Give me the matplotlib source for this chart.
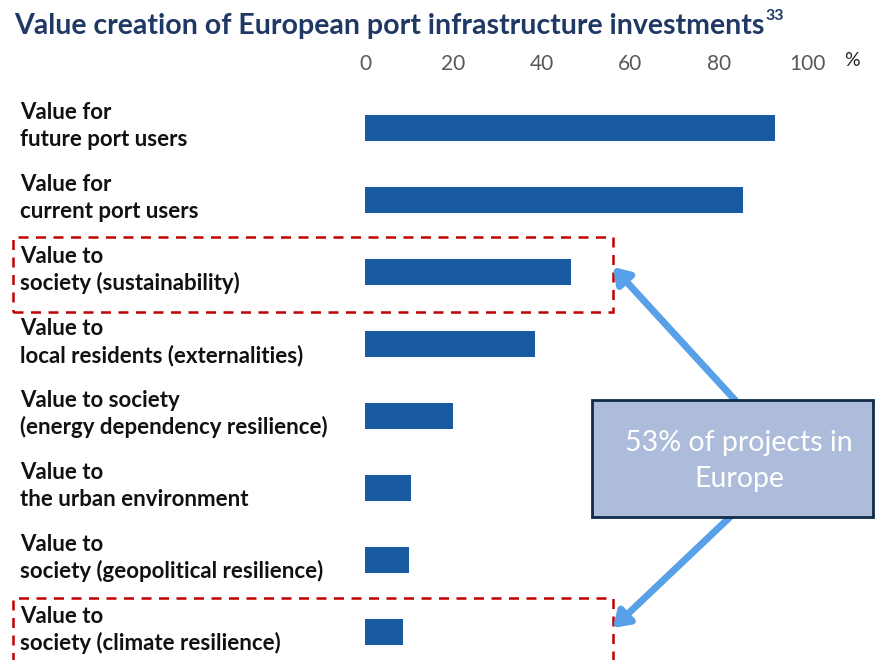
import matplotlib.pyplot as plt
from matplotlib.patches import Rectangle, FancyArrowPatch

plt.rcParams['font.family'] = ['Lato', 'DejaVu Sans']

labels = [
    'Value for\nfuture port users',
    'Value for\ncurrent port users',
    'Value to\nsociety (sustainability)',
    'Value to\nlocal residents (externalities)',
    'Value to society\n(energy dependency resilience)',
    'Value to\nthe urban environment',
    'Value to\nsociety (geopolitical resilience)',
    'Value to\nsociety (climate resilience)',
]
shares = [92.8, 85.5, 46.6, 38.5, 19.9, 10.4, 10.0, 8.6]
ticks = [0, 20, 40, 60, 80, 100]
callout = '53% of projects in\nEurope'

W, H = 883, 660
fig = plt.figure(figsize=(W / 100, H / 100), dpi=100)

# axes placed in pixel terms: 0 -> x=365, 100 -> x=807, one row = 72 px
top_px, row_px = 92, 72
n = len(shares)
ax = fig.add_axes([365 / W, 1 - (top_px + n * row_px) / H, 442 / W, n * row_px / H])
ypos = list(range(n))
ax.barh(ypos, shares, height=0.36, color='#185BA3')
ax.set_xlim(0, 100)
ax.set_ylim(n - 0.5, -0.5)
ax.xaxis.tick_top()
ax.set_xticks(ticks)
ax.set_xticklabels([str(t) for t in ticks], fontsize=15, color='#595959')
ax.tick_params(axis='x', length=0, pad=13)
ax.set_yticks([])
for s in ax.spines.values():
    s.set_visible(False)
ax.patch.set_alpha(0)

fig.text(852 / W, 1 - 61 / H, '%', fontsize=14, color='#222222', ha='center', va='center')

# category labels, left aligned in figure pixels
for i, lab in enumerate(labels):
    y = top_px + row_px * (i + 0.5) - 2
    fig.text(20 / W, 1 - y / H, lab, fontsize=16, fontweight='bold', color='#111111',
             ha='left', va='center', linespacing=1.3)

title = fig.text(14 / W, 1 - 26 / H, 'Value creation of European port infrastructure investments',
                 fontsize=20.5, fontweight='bold', color='#1F3864', ha='left', va='center')
# superscript note number right after the title
fig.canvas.draw()
bb = title.get_window_extent()
fig.text((bb.x1 + 1) / W, 1 - 16 / H, '33', fontsize=11.5, fontweight='bold', color='#1F3864',
         ha='left', va='center')

# dashed highlight frames
def px_rect(x0, y0, x1, y1):
    return Rectangle((x0 / W, 1 - y1 / H), (x1 - x0) / W, (y1 - y0) / H,
                     transform=fig.transFigure, fill=False, edgecolor='#C00000',
                     linestyle=(0, (4, 3)), linewidth=1.8)

fig.patches.append(px_rect(13, 237, 613, 312))
fig.patches.append(px_rect(13, 598, 613, 700))

# callout box
box = Rectangle((592 / W, 1 - 517 / H), (873 - 592) / W, (517 - 400) / H,
                transform=fig.transFigure, facecolor='#ADBCDA', edgecolor='#0F2A4A',
                linewidth=2, zorder=3)
fig.patches.append(box)
fig.text(739 / W, 1 - 461 / H, callout, fontsize=20.5, color='white', ha='center',
         va='center', linespacing=1.45, zorder=4)

# arrows from the box to the frames
for (x0, y0), (x1, y1) in [((735, 400), (613, 267)), ((730, 517), (613, 628))]:
    arr = FancyArrowPatch((x0 / W, 1 - y0 / H), (x1 / W, 1 - y1 / H),
                          transform=fig.transFigure, arrowstyle='-|>,head_length=9,head_width=6',
                          color='#58A0E8', linewidth=5, shrinkA=0, shrinkB=0, zorder=2)
    fig.patches.append(arr)

fig.savefig('out.png', dpi=100)
